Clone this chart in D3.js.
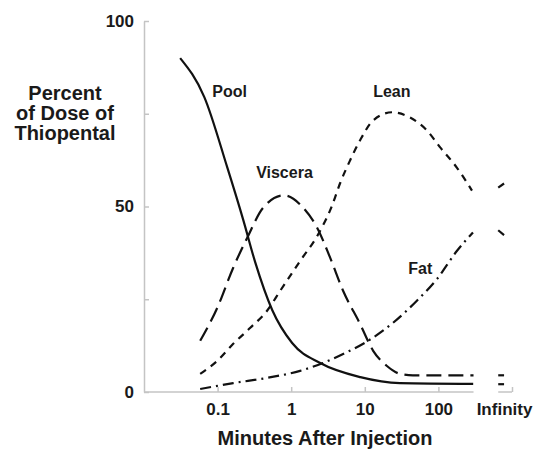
<!DOCTYPE html>
<html>
<head>
<meta charset="utf-8">
<script src="https://cdn.jsdelivr.net/npm/d3@7"></script>
<style>
  body { margin: 0; background: #fff; }
  text { font-family: "Liberation Sans", Arial, sans-serif; font-weight: bold; fill: #1a1a1a; }
</style>
</head>
<body>
<svg width="536" height="451"></svg>
<script>
// minutes after injection (log scale); "Infinity" sits where 1000 would be
const poolT = [0.031, 0.066, 0.135, 0.223, 0.324, 0.552, 1.03, 2.48, 8.7, 30, 297]
const poolV = [90, 79.5, 60.6, 46.4, 35, 22.1, 13.2, 7.8, 4, 2.4, 2.2]

const visceraT = [0.058, 0.099, 0.163, 0.253, 0.417, 0.8, 1.45, 2.25, 3.38, 5.07, 8.6, 13, 20, 30, 45, 300]
const visceraV = [13.8, 22.7, 33.5, 41.6, 49.7, 53, 49.7, 44.3, 36.2, 27.3, 18.4, 11.1, 7, 4.9, 4.5, 4.5]

const leanT = [0.058, 0.099, 0.163, 0.278, 0.47, 0.71, 1.33, 2.25, 3.6, 4.6, 6.3, 8.6, 13, 23.5, 41, 70, 105, 178, 286]
const leanV = [4.9, 8.4, 13, 17.3, 21.9, 27.3, 35.4, 42, 50.3, 56.2, 62.4, 67.8, 73.2, 75.4, 74, 70.5, 66, 60.5, 54.3]

const fatT = [0.058, 0.163, 0.47, 1.32, 2.7, 5.4, 11.1, 24, 51, 96, 178, 295]
const fatV = [0.8, 2.4, 3.8, 5.7, 7.8, 10.5, 13.8, 18.6, 24.6, 30.5, 38, 43]

// short stubs drawn just before the Infinity tick
const infT = [650, 780]
const poolInf = [2.1, 2.1]
const visceraInf = [4.5, 4.5]
const leanInf = [43.6, 42.3]
const fatInf = [55.1, 56.2]

const xTicks = [0.1, 1, 10, 100, 1000]
const yTicks = [0, 25, 50, 75, 100]
const yLabelled = [0, 50, 100]

const series = [
  { name: 'Pool', t: poolT, v: poolV, inf: poolInf, dash: null, lt: 0.0845, lv: 79.5 },
  { name: 'Viscera', t: visceraT, v: visceraV, inf: visceraInf, dash: '15,7', lt: 0.334, lv: 57.6 },
  { name: 'Lean', t: leanT, v: leanV, inf: leanInf, dash: '7,6', lt: 13, lv: 79.5 },
  { name: 'Fat', t: fatT, v: fatV, inf: fatInf, dash: '11,5,2,5', lt: 38.9, lv: 31.7 }
]

const svg = d3.select('svg')

const x = d3.scaleLog().domain([0.01, 1000]).range([144, 512])
const y = d3.scaleLinear().domain([0, 100]).range([392, 21])

const axisColor = '#c4c4c4'

// y axis
const yAxis = svg.append('g')
  .attr('transform', `translate(${x(0.01)},0)`)
  .call(d3.axisLeft(y).tickValues(yTicks).tickSize(-5).tickSizeOuter(0).tickPadding(10)
    .tickFormat(d => yLabelled.includes(d) ? d : ''))
yAxis.selectAll('path, line').attr('stroke', axisColor).attr('stroke-width', 1.5)
yAxis.selectAll('text').attr('font-size', 17).attr('font-family', null).attr('fill', null)

// x axis, broken before Infinity
const xAxis = svg.append('g')
  .attr('transform', `translate(0,${y(0)})`)
  .call(d3.axisBottom(x).tickValues(xTicks).tickSize(-5).tickPadding(11)
    .tickFormat(d => d === 1000 ? 'Infinity' : String(d)))
xAxis.select('.domain').remove()
xAxis.selectAll('line').attr('stroke', axisColor).attr('stroke-width', 1.5)
xAxis.selectAll('text').attr('font-size', 17).attr('font-family', null).attr('fill', null)
xAxis.selectAll('.tick').filter(d => d === 1000).select('text').attr('dx', -8)

const axisLine = d3.line().x(d => x(d)).y(0)
xAxis.selectAll('path.seg')
  .data([[0.01, 300], [650, 1000]])
  .enter()
  .append('path')
  .classed('seg', true)
  .attr('d', axisLine)
  .attr('stroke', axisColor)
  .attr('stroke-width', 1.5)
  .attr('fill', 'none')

// curves
const line = d3.line()
  .x(d => x(d[0]))
  .y(d => y(d[1]))
  .curve(d3.curveMonotoneX)

const curves = svg.append('g')
curves.selectAll('.curve')
  .data(series)
  .enter()
  .append('path')
  .classed('curve', true)
  .attr('d', s => line(s.t.map((t, i) => [t, s.v[i]])))
  .attr('fill', 'none')
  .attr('stroke', '#111')
  .attr('stroke-width', 2.2)
  .attr('stroke-dasharray', s => s.dash)

curves.selectAll('.stub')
  .data(series)
  .enter()
  .append('path')
  .classed('stub', true)
  .attr('d', s => line(infT.map((t, i) => [t, s.inf[i]])))
  .attr('fill', 'none')
  .attr('stroke', '#111')
  .attr('stroke-width', 2.2)

// series labels
svg.selectAll('.slabel')
  .data(series)
  .enter()
  .append('text')
  .classed('slabel', true)
  .attr('x', s => x(s.lt))
  .attr('y', s => y(s.lv))
  .attr('font-size', 16)
  .text(s => s.name)

// axis titles
svg.append('text')
  .attr('x', 325)
  .attr('y', 445)
  .attr('text-anchor', 'middle')
  .attr('font-size', 20)
  .text('Minutes After Injection')

svg.append('text')
  .attr('text-anchor', 'middle')
  .attr('font-size', 20)
  .selectAll('tspan')
  .data(['Percent', 'of Dose of', 'Thiopental'])
  .enter()
  .append('tspan')
  .attr('x', 65)
  .attr('y', (d, i) => 100 + i * 20)
  .text(d => d)
</script>
</body>
</html>
